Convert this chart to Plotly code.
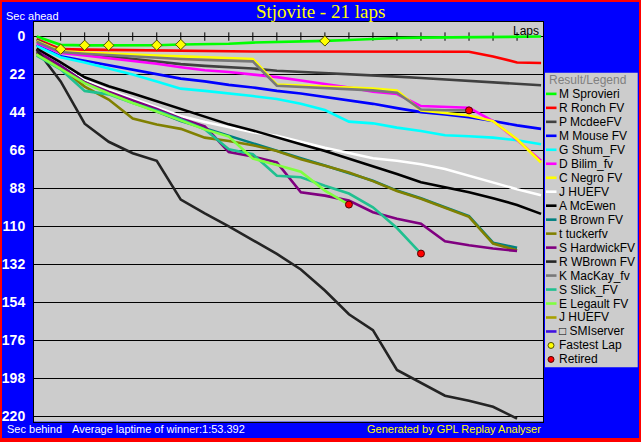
import plotly.graph_objects as go

W, H = 641, 442

laps = list(range(22))
tick_laps = list(range(1, 21))
y_ticks = [0, 22, 44, 66, 88, 110, 132, 154, 176, 198, 220]

drivers = ["M Sprovieri", "R Ronch FV", "P McdeeFV", "M Mouse FV", "G Shum_FV",
           "D Bilim_fv", "C Negro FV", "J HUEFV", "A McEwen", "B Brown FV",
           "t tuckerfv", "S HardwickFV", "R WBrown FV", "K MacKay_fv",
           "S Slick_FV", "E Legault FV", "J HUEFV", "\u25a1 SMIserver"]
colors = ["#00ff00", "#ff0000", "#404040", "#0000ff", "#00ffff",
          "#ff00ff", "#ffff00", "#ffffff", "#000000", "#008080",
          "#808000", "#800080", "#242424", "#787878",
          "#20c090", "#80ff40", "#a8a000", "#4010e0"]

# seconds behind winner's average pace, per lap (lap 0 .. last completed lap)
sprovieri = [0, 4.8, 5.1, 5.1, 5.0, 5.0, 4.6, 4.4, 4.2, 3.5, 3.3, 3.0, 2.5, 2.0, 1.3, 0.8, 0.6, 0.5, 0.2, 0.1, 0.05, 0]
ronch = [1.5, 7.3, 7.6, 7.8, 8.0, 8.2, 8.4, 8.6, 8.6, 8.7, 8.7, 8.7, 8.7, 8.7, 8.7, 8.7, 8.7, 8.7, 8.8, 11.5, 15.0, 15.3]
mcdee = [2, 8.5, 10, 11.5, 13, 14.5, 16, 17, 17.8, 18.5, 19.8, 20.4, 21.1, 21.8, 22.6, 23.2, 24.0, 24.8, 25.6, 26.5, 27.4, 28.2]
mouse = [5, 11.5, 14, 16.5, 19, 21.5, 24.4, 26, 28, 29.5, 31.5, 33, 35, 37, 39, 41.5, 43.8, 45.2, 46.8, 49, 51.5, 53.5]
shum = [5.5, 12, 15, 18.5, 22, 26, 30.2, 31.5, 32.8, 34.5, 36.2, 39, 42.6, 49.3, 50.3, 52.8, 54.7, 57.2, 57.8, 58.6, 60.1, 62.4]
bilim = [3.8, 9.5, 11, 12.5, 14, 15.8, 17.8, 19.5, 20.5, 22, 23.5, 25.5, 27.5, 29.5, 32, 33.3, 40.3, 40.8, 41.3, 49, 60, 72]
negro = [2.5, 8.5, 9.3, 10.0, 10.5, 11.0, 11.5, 12.0, 12.5, 13.0, 27.8, 28.3, 28.8, 29.3, 30.1, 31.3, 42.8, 44.3, 45.8, 49, 59.5, 73]
huefv = [8, 16.5, 25.5, 31, 36, 41, 46, 49.5, 52.5, 55.5, 57.5, 61, 64.5, 67.5, 70.5, 72, 74, 76.8, 80.7, 85, 88.5, 92]
mcewen = [7, 15, 23.6, 28.8, 33, 37.5, 42, 46.5, 50.9, 54.4, 58.6, 62.4, 66.3, 70.7, 74.9, 79.7, 84.5, 87.4, 90.3, 93.7, 97.6, 102.8]
brown = [9, 17, 26.5, 32.5, 38, 43.5, 49, 53.2, 57.6, 61.8, 66.3, 70.5, 74.7, 79, 83.6, 89.3, 93.7, 98.9, 104.1, 119.5, 122.5]
tucker = [9.5, 18, 29, 36.5, 47.5, 51, 53.5, 58.6, 60.5, 63, 66.3, 71.1, 74.9, 78.8, 83.8, 89.5, 94, 99.3, 104.5, 120, 123.9]
hardwick = [8.5, 17, 26.5, 32, 37, 42, 47.5, 52, 66.9, 69.5, 73, 90.3, 92.2, 95.1, 101.8, 105.6, 108.5, 118.7, 121, 122.9, 124.3]
wbrown = [7.5, 26, 50.5, 61, 67.6, 72, 94.5, 102.5, 110, 118, 126, 135, 147.2, 161, 170.2, 193.3, 200.8, 208.2, 211.1, 214.6, 221.5]
mackay = [3, 9, 10, 10.8, 11.5, 12.3, 13.0, 13.5, 14.0, 14.4, 28.5, 29.2, 29.8, 30.4, 31.2, 32.6, 42.3, 42.7, 42.8]
slick = [11, 19, 31.5, 33.5, 38.5, 43, 48, 53.8, 65.3, 68.2, 80.7, 81.6, 86.5, 91, 99, 111, 125.8]
legault = [10.5, 18.5, 27, 33, 38.5, 43.5, 48.6, 53.8, 58, 70.7, 74.5, 78.4, 89.3, 97.4]
huefv2 = []
smiserver = []

gaps = [sprovieri, ronch, mcdee, mouse, shum, bilim, negro, huefv, mcewen, brown,
        tucker, hardwick, wbrown, mackay, slick, legault, huefv2, smiserver]

fastest_lap_laps = [1, 2, 3, 5, 6, 12]
fastest_lap_drivers = ["R Ronch FV", "M Sprovieri", "M Sprovieri", "M Sprovieri", "M Sprovieri", "M Sprovieri"]
retired_drivers = ["E Legault FV", "S Slick_FV", "K MacKay_fv"]

title_text = "Stjovite - 21 laps"
avg_text = "Average laptime of winner:1:53.392"
credit_text = "Generated by GPL Replay Analyser"


def px(x):
    return x / W


def py(y):
    return 1 - y / H


fig = go.Figure()

# lap tick marks along the zero line
fig.add_trace(go.Scatter(
    x=tick_laps, y=[0] * len(tick_laps), mode="markers",
    marker=dict(symbol="line-ns", size=6, line=dict(color="black", width=1)),
    hoverinfo="skip", showlegend=False))

for name, col, vals in zip(drivers, colors, gaps):
    if not vals:
        continue
    fig.add_trace(go.Scatter(
        x=laps[:len(vals)], y=vals, mode="lines", name=name,
        line=dict(color=col, width=2.6), showlegend=False))

idx = {n: i for i, n in enumerate(drivers)}
fx = fastest_lap_laps
fy = [gaps[idx[d]][l] for d, l in zip(fastest_lap_drivers, fastest_lap_laps)]
fig.add_trace(go.Scatter(
    x=fx, y=fy, mode="markers", showlegend=False,
    marker=dict(symbol="diamond", size=8, color="#ffff00",
                line=dict(color="#505000", width=1))))

rx = [len(gaps[idx[d]]) - 1 for d in retired_drivers]
ry = [gaps[idx[d]][-1] for d in retired_drivers]
fig.add_trace(go.Scatter(
    x=rx, y=ry, mode="markers", showlegend=False,
    marker=dict(symbol="circle", size=7, color="#ff0000",
                line=dict(color="#500000", width=1))))

shapes = []
annotations = []

# legend box
shapes.append(dict(type="rect", xref="paper", yref="paper",
                   x0=px(545), x1=px(637.7), y0=py(369), y1=py(73),
                   fillcolor="#cccccc", line=dict(width=0), layer="below"))
annotations.append(dict(text="Result/Legend", xref="paper", yref="paper",
                        x=px(546.5), y=py(80.5), xanchor="left", yanchor="middle",
                        showarrow=False, font=dict(family="Arial", size=12, color="#808080")))
row0, step = 94.3, 14.04
for i, (name, col) in enumerate(zip(drivers, colors)):
    yy = row0 + step * i
    shapes.append(dict(type="line", xref="paper", yref="paper",
                       x0=px(546), x1=px(556.5), y0=py(yy), y1=py(yy),
                       line=dict(color=col, width=2.6)))
    annotations.append(dict(text=name, xref="paper", yref="paper",
                            x=px(556.5), y=py(yy), xanchor="left", yanchor="middle",
                            showarrow=False, font=dict(family="Arial", size=12, color="black")))
for j, (lab, fc, lc) in enumerate([("Fastest Lap", "#ffff00", "#505000"),
                                    ("Retired", "#ff0000", "#500000")]):
    yy = row0 + step * (len(drivers) + j)
    shapes.append(dict(type="circle", xref="paper", yref="paper",
                       x0=px(548), x1=px(554), y0=py(yy + 3), y1=py(yy - 3),
                       fillcolor=fc, line=dict(color=lc, width=1)))
    annotations.append(dict(text=lab, xref="paper", yref="paper",
                            x=px(556.5), y=py(yy), xanchor="left", yanchor="middle",
                            showarrow=False, font=dict(family="Arial", size=12, color="black")))

# texts
annotations += [
    dict(text=title_text, xref="paper", yref="paper", x=px(320.5), y=py(12),
         xanchor="center", yanchor="middle", showarrow=False,
         font=dict(family="Liberation Serif", size=19, color="#ffff00")),
    dict(text="Sec ahead", xref="paper", yref="paper", x=px(4), y=py(16.5),
         xanchor="left", yanchor="middle", showarrow=False,
         font=dict(family="Arial", size=11, color="white")),
    dict(text="Laps", xref="paper", yref="paper", x=px(541), y=py(31),
         xanchor="right", yanchor="middle", showarrow=False,
         font=dict(family="Arial", size=12, color="black")),
    dict(text="Sec behind", xref="paper", yref="paper", x=px(4.5), y=py(430.5),
         xanchor="left", yanchor="middle", showarrow=False,
         font=dict(family="Arial", size=11, color="white")),
    dict(text=avg_text, xref="paper", yref="paper", x=px(69.5), y=py(430.5),
         xanchor="left", yanchor="middle", showarrow=False,
         font=dict(family="Arial", size=11, color="white")),
    dict(text=credit_text, xref="paper", yref="paper", x=px(543), y=py(430.5),
         xanchor="right", yanchor="middle", showarrow=False,
         font=dict(family="Arial", size=11, color="#ffff00")),
]

# red outer border
shapes.append(dict(type="rect", xref="paper", yref="paper", x0=0, x1=1, y0=0, y1=1,
                   line=dict(color="#ff0000", width=4), layer="above"))

fig.update_layout(
    width=W, height=H, margin=dict(l=0, r=0, t=0, b=0),
    paper_bgcolor="#0000ff", plot_bgcolor="#cccccc",
    showlegend=False, shapes=shapes, annotations=annotations,
    xaxis=dict(domain=[px(34), px(543)], range=[-0.11, 21.08],
               showgrid=False, zeroline=False, showticklabels=False, ticks="",
               showline=True, linecolor="black", linewidth=1, mirror=True),
    yaxis=dict(domain=[py(423.5), py(22)], range=[223.2, -8.5],
               tickvals=y_ticks, ticktext=[str(v) for v in y_ticks],
               showgrid=True, gridcolor="black", gridwidth=1, zeroline=False,
               ticks="", ticklabelstandoff=5,
               tickfont=dict(family="Arial", size=14, color="white", weight="bold"),
               showline=True, linecolor="black", linewidth=1, mirror=True),
)

fig.write_html("out.html", config={"displayModeBar": False},
               post_script="document.body.style.margin='0';document.body.style.padding='0';document.body.style.overflow='hidden';")
